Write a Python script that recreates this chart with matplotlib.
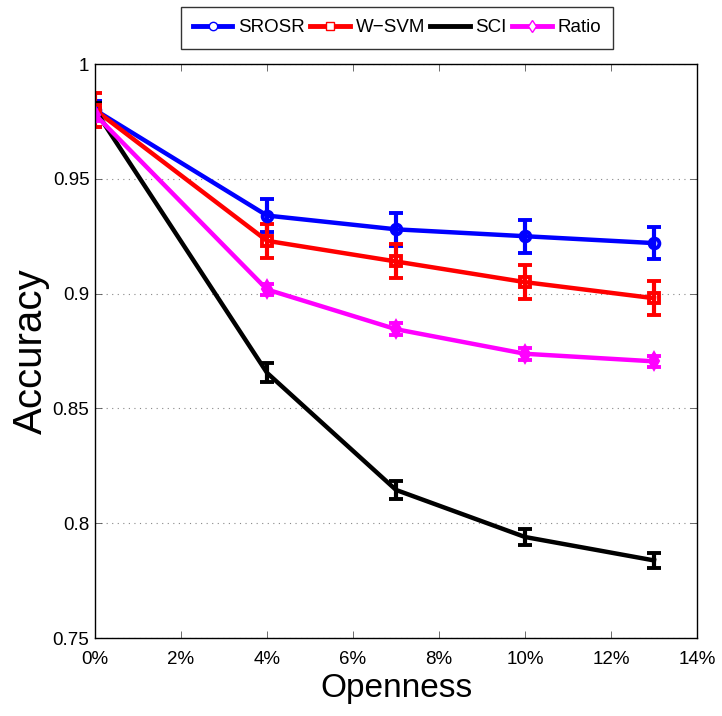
import matplotlib
matplotlib.use("Agg")
import matplotlib.pyplot as plt
from matplotlib.lines import Line2D
import numpy as np

openness = [0, 4, 7, 10, 13]
srosr = [0.980, 0.934, 0.928, 0.925, 0.922]
srosr_err = [0.004, 0.0072, 0.0072, 0.0072, 0.007]
wsvm = [0.980, 0.923, 0.914, 0.905, 0.898]
wsvm_err = [0.0075, 0.0075, 0.0074, 0.0074, 0.0074]
sci = [0.980, 0.8655, 0.8145, 0.794, 0.7838]
sci_err = [0.003, 0.0042, 0.0038, 0.0037, 0.0034]
ratio = [0.978, 0.9018, 0.8845, 0.8738, 0.8705]
ratio_err = [0.003, 0.0025, 0.0025, 0.0025, 0.0025]

xticks = [0, 2, 4, 6, 8, 10, 12, 14]
xticklabels = ["0%", "2%", "4%", "6%", "8%", "10%", "12%", "14%"]
yticks = [0.75, 0.8, 0.85, 0.9, 0.95, 1.0]
yticklabels = ["0.75", "0.8", "0.85", "0.9", "0.95", "1"]

plt.rcParams['font.family'] = ['Liberation Sans', 'DejaVu Sans']

fig = plt.figure(figsize=(7.22, 7.16), dpi=100)
ax = fig.add_axes([0.1316, 0.1089, 0.9654 - 0.1316, 0.9106 - 0.1089])

series = [
    ("SROSR", srosr, srosr_err, "#0000ff", "o"),
    ("W\u2212SVM", wsvm, wsvm_err, "#ff0000", "s"),
    ("SCI", sci, sci_err, "#000000", None),
    ("Ratio", ratio, ratio_err, "#ff00ff", "d"),
]
handles = []
for name, vals, err, col, mk in series:
    ax.errorbar(openness, vals, yerr=err, color=col, lw=3.2, marker=mk,
                markersize=7, markerfacecolor='none', markeredgewidth=2.8,
                capsize=5, capthick=3, elinewidth=3)
    handles.append(Line2D([], [], color=col, lw=3.5, marker=mk, markersize=6,
                          markerfacecolor='white', markeredgewidth=1.0,
                          label=name))

ax.set_xlim(0, 14)
ax.set_ylim(0.75, 1.0)
ax.set_xticks(xticks)
ax.set_xticklabels(xticklabels, fontsize=13.5)
ax.set_yticks(yticks)
ax.set_yticklabels(yticklabels, fontsize=13.5)
ax.tick_params(direction='in', length=5, width=0.6, top=True, right=True,
               color='#555555')
ax.tick_params(axis='x', pad=9)
ax.tick_params(axis='y', pad=4)
ax.yaxis.grid(True, linestyle=(0, (1, 4)), color='#888888', lw=0.8)
for s in ax.spines.values():
    s.set_linewidth(1.0)
ax.set_xlabel("Openness", fontsize=24, labelpad=4)
ax.set_ylabel("Accuracy", fontsize=29, labelpad=2)

leg = ax.legend(handles=handles, loc='upper center', bbox_to_anchor=(0.55, 0.99),
                bbox_transform=fig.transFigure, ncol=4,
                prop={'size': 13.5},
                frameon=True, fancybox=False, edgecolor='black',
                handlelength=2.1, columnspacing=0.3, handletextpad=0.3,
                borderpad=0.65, borderaxespad=0)
leg.get_frame().set_linewidth(1.0)

fig.savefig("out.png", dpi=100)
